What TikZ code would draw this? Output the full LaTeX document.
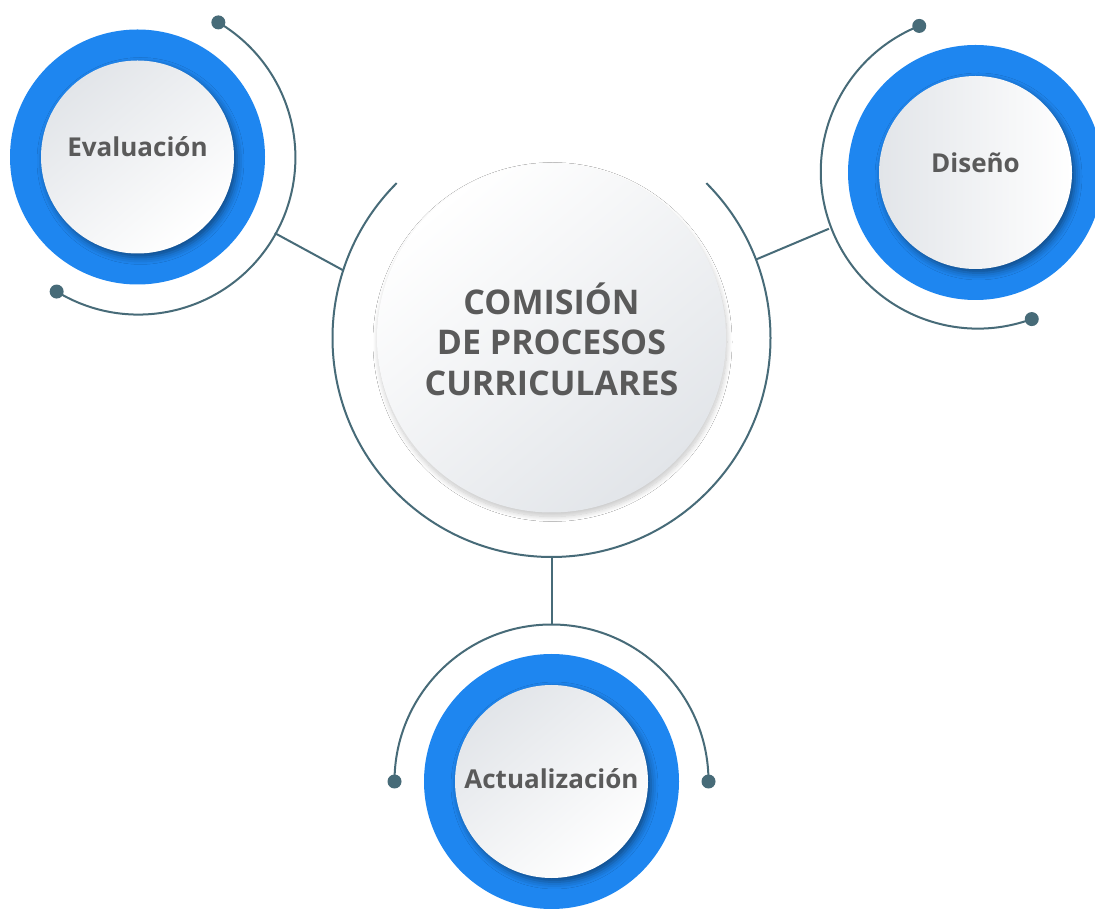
\documentclass[tikz,border=0pt]{standalone}
\usepackage{fontspec}
\setmainfont{Open Sans}
\usetikzlibrary{shadows.blur}
\definecolor{ringblue}{RGB}{30,134,240}
\definecolor{linecol}{RGB}{71,107,120}
\definecolor{txt}{RGB}{90,90,90}
\definecolor{pale}{RGB}{226,229,233}
\tikzset{
  ring/.style={circle, fill=ringblue, minimum size=255pt, inner sep=0pt, outer sep=0pt},
  disc/.style={circle, minimum size=193pt, inner sep=0pt, outer sep=0pt,
    blur shadow={shadow xshift=3pt, shadow yshift=-4pt, shadow opacity=45, shadow blur radius=7pt}},
  guide/.style={circle, minimum size=314pt, inner sep=0pt, outer sep=0pt},
  link/.style={draw=linecol, line width=2pt},
  dotend/.style={circle, fill=linecol, minimum size=14pt, inner sep=0pt},
  lbl/.style={text=txt, font=\fontsize{26}{30}\selectfont\bfseries, inner sep=0pt}
}
\begin{document}
\begin{tikzpicture}[x=1pt,y=1pt]
\useasboundingbox (0,0) rectangle (1095,908);
\clip (0,0) rectangle (1095,908);
\fill[white] (0,0) rectangle (1095,908);

% ---------- centre ----------
\node[circle, minimum size=438pt, inner sep=0pt, outer sep=0pt] (cguide) at (551.5,570) {};
\node[circle, minimum size=349pt, inner sep=0pt, outer sep=0pt,
      top color=white, bottom color=pale, shading angle=40,
      blur shadow={shadow xshift=1pt, shadow yshift=-4pt, shadow opacity=22, shadow blur radius=5pt, shadow blur steps=12}] (cdisc) at (551.5,570) {};
\draw[link] (cguide.135) arc[start angle=135, end angle=405, radius=219pt];
\node[text=txt, font=\fontsize{34}{40.5}\selectfont\bfseries, align=center, inner sep=0pt] (ctxt) at (551.5,569)
  {COMISIÓN\\DE PROCESOS\\CURRICULARES};

% ---------- Evaluación ----------
\node[ring] (ering) at (137.5,751) {};
\node[disc, top color=pale, bottom color=white, shading angle=40] (edisc) at (137.5,751) {};
\node[guide] (eguide) at (137.5,751) {};
\draw[link] (eguide.-121.4) arc[start angle=-121.4, end angle=59.8, radius=157pt];
\node[dotend] (edot1) at (eguide.59.8) {};
\node[dotend] (edot2) at (eguide.-121.4) {};
\node[lbl, anchor=base] (etxt) at (137.5,751) {Evaluación};
\draw[link] (eguide.-29.7) -- (cguide.162.4);

% ---------- Diseño ----------
\node[ring] (dring) at (975.5,735.5) {};
\node[disc, top color=pale, bottom color=white, shading angle=90] (ddisc) at (975.5,735.5) {};
\node[guide] (dguide) at (975.5,735.5) {};
\draw[link] (dguide.111.9) arc[start angle=111.9, end angle=291.9, radius=157pt];
\node[dotend] (ddot1) at (dguide.111.9) {};
\node[dotend] (ddot2) at (dguide.291.9) {};
\node[lbl, anchor=base] (dtxt) at (975.5,735) {Diseño};
\draw[link] (dguide.201.8) -- (cguide.21.6);

% ---------- Actualización ----------
\node[ring] (aring) at (551.5,126.5) {};
\node[disc, top color=pale, bottom color=white, shading angle=40] (adisc) at (551.5,126.5) {};
\node[guide] (aguide) at (551.5,126.5) {};
\draw[link] (aguide.0) arc[start angle=0, end angle=180, radius=157pt];
\node[dotend] (adot1) at (aguide.0) {};
\node[dotend] (adot2) at (aguide.180) {};
\node[lbl, anchor=base] (atxt) at (551.5,120) {Actualización};
\draw[link] (aguide.90) -- (cguide.270);
\end{tikzpicture}
\end{document}
